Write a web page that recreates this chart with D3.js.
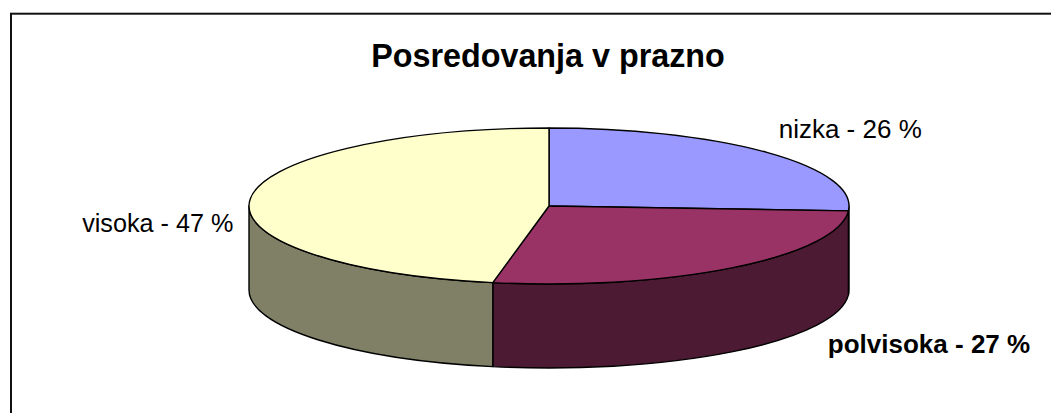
<!DOCTYPE html>
<html>
<head>
<meta charset="utf-8">
<script src="https://cdn.jsdelivr.net/npm/d3@7"></script>
<style>
  html, body { margin: 0; padding: 0; background: #fff; }
  svg { display: block; }
</style>
</head>
<body>
<div id="chart"></div>
<script>
// data
const categories = ["nizka", "polvisoka", "visoka"];
const values = [26, 27, 47];
const labelTexts = ["nizka - 26 %", "polvisoka - 27 %", "visoka - 47 %"];
const topColors = ["#9999FF", "#993366", "#FFFFCC"];

const width = 1051, height = 413;
const cx = 549, cy = 206;      // centre of top face
const rx = 300, ry = 78;       // ellipse radii
const depth = 84;              // thickness of the pie

const svg = d3.select("#chart").append("svg")
    .attr("width", width)
    .attr("height", height);

// chart frame (runs off the right and bottom of the picture)
svg.append("rect")
    .attr("x", 11)
    .attr("y", 13.7)
    .attr("width", width + 20)
    .attr("height", height + 20)
    .attr("fill", "none")
    .attr("stroke", "#111")
    .attr("stroke-width", 2);

svg.append("text")
    .attr("x", 548)
    .attr("y", 67)
    .attr("text-anchor", "middle")
    .style("font-family", "'Liberation Sans', Arial, sans-serif")
    .style("font-weight", "bold")
    .style("font-size", "32.3px")
    .text("Posredovanja v prazno");

const pie = d3.pie().sort(null).value(d => d)(values);

const pt = function (a, dy) {
    return [cx + rx * Math.sin(a), cy - ry * Math.cos(a) + (dy || 0)];
};

// side shade: half the brightness of the top colour
const shade = function (c) {
    const r = d3.rgb(c);
    return d3.rgb(r.r * 0.5, r.g * 0.5, r.b * 0.5);
};

// side walls: only the front half (angles between pi/2 and 3pi/2) is seen
const walls = svg.append("g");
pie.forEach(function (s, i) {
    const b0 = Math.max(s.startAngle, Math.PI / 2);
    const b1 = Math.min(s.endAngle, 3 * Math.PI / 2);
    if (b1 <= b0) return;
    const p0 = pt(b0), p1 = pt(b1), q1 = pt(b1, depth), q0 = pt(b0, depth);
    const path = "M" + p0 + " A" + rx + "," + ry + " 0 0 1 " + p1 +
        " L" + q1 + " A" + rx + "," + ry + " 0 0 0 " + q0 + " Z";
    walls.append("path")
        .attr("d", path)
        .attr("fill", shade(topColors[i]))
        .attr("stroke", "#000")
        .attr("stroke-width", 1.4)
        .attr("stroke-linejoin", "round");
});

// top faces
const tops = svg.append("g");
pie.forEach(function (s, i) {
    const p0 = pt(s.startAngle), p1 = pt(s.endAngle);
    const large = (s.endAngle - s.startAngle) > Math.PI ? 1 : 0;
    const path = "M" + cx + "," + cy + " L" + p0 + " A" + rx + "," + ry +
        " 0 " + large + " 1 " + p1 + " Z";
    tops.append("path")
        .attr("d", path)
        .attr("fill", topColors[i])
        .attr("stroke", "#000")
        .attr("stroke-width", 1.4)
        .attr("stroke-linejoin", "round");
});

// labels, placed from the middle of each slice
const labelLayout = {
    nizka: { dx: 11, dy: -15, anchor: "start", weight: "normal", size: 26 },
    polvisoka: { dx: 95, dy: 85, anchor: "start", weight: "bold", size: 26 },
    visoka: { dx: -17, dy: 33, anchor: "end", weight: "normal", size: 25.2 }
};

pie.forEach(function (s, i) {
    const mid = (s.startAngle + s.endAngle) / 2;
    const m = pt(mid);
    const l = labelLayout[categories[i]];
    svg.append("text")
        .attr("x", m[0] + l.dx)
        .attr("y", m[1] + l.dy)
        .attr("text-anchor", l.anchor)
        .style("font-family", "'Liberation Sans', Arial, sans-serif")
        .style("font-weight", l.weight)
        .style("font-size", l.size + "px")
        .text(labelTexts[i]);
});
</script>
</body>
</html>
